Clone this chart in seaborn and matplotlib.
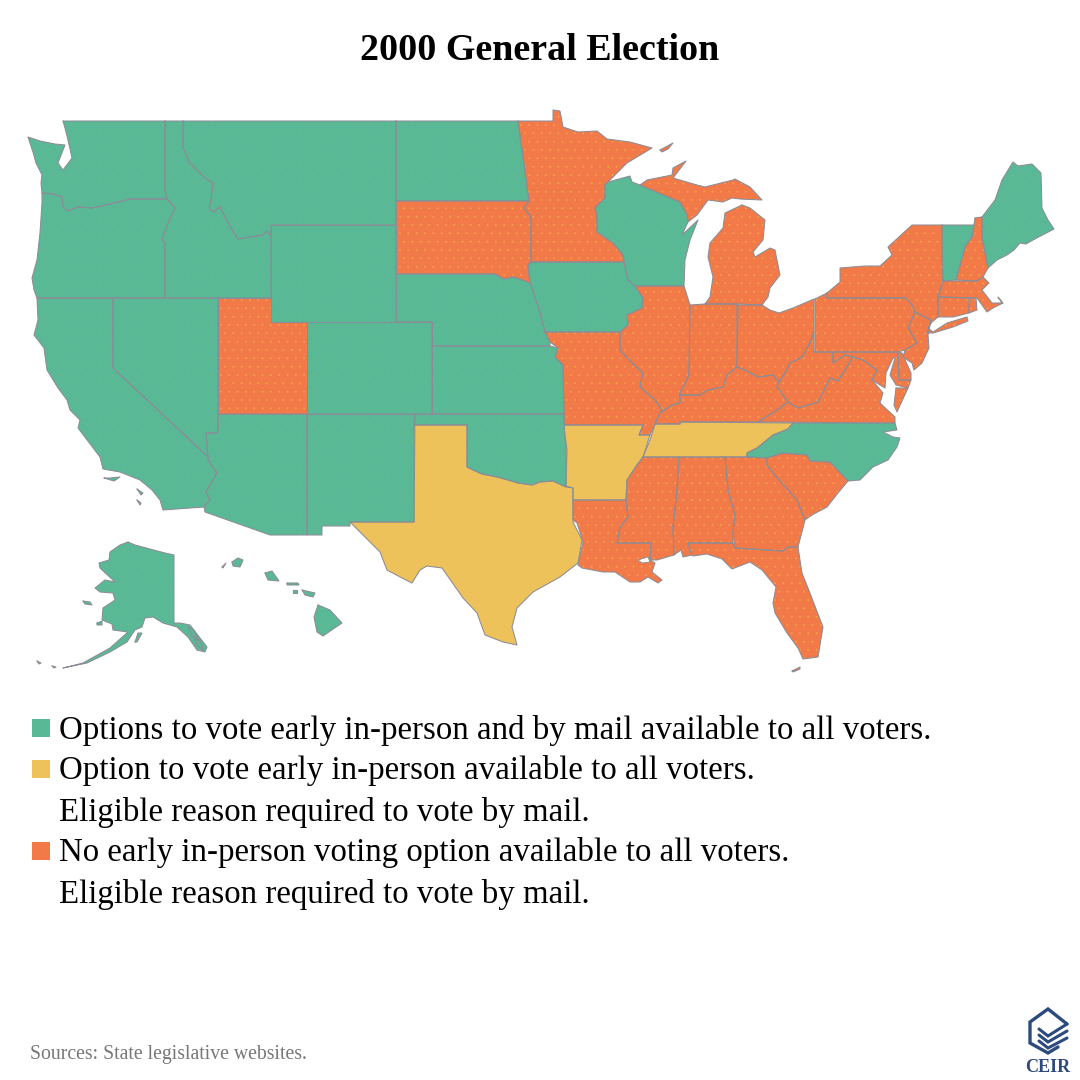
"""
2000 general election early voting map, state outlines traced from the picture.
"""
import numpy as np
import pandas as pd
import matplotlib
matplotlib.use("Agg")
import matplotlib.pyplot as plt
import seaborn as sns

sns.set_theme(style="white")
plt.rcParams["font.family"] = ["Liberation Serif", "DejaVu Serif"]
plt.rcParams["hatch.linewidth"] = 0.05

TITLE = "2000 General Election"
SOURCE = "Sources: State legislative websites."
LEGEND_LINES = [
    "Options to vote early in-person and by mail available to all voters.",
    "Option to vote early in-person available to all voters.",
    "Eligible reason required to vote by mail.",
    "No early in-person voting option available to all voters.",
    "Eligible reason required to vote by mail.",
]
LEGEND_KEYS = ["both", "early", None, "none", None]

# ── outlines, (x, y) ──────────────────────────────────────────────────────────
WA = [(63,121),(165,121),(165,190),(167,199),(130,199),(110,204),(92,208),(78,207),(68,211),(63,207),(62,197),
      (53,194),(42,193),(41,183),(42,175),(36,163),(33,152),(28,137),(40,141),(55,144),(65,145),(58,163),(63,170),
      (72,158),(68,140),(65,128)]
OR = [(42,193),(53,194),(62,197),(63,207),(68,211),(78,207),(92,208),(110,204),(130,199),(167,199),(175,208),
      (168,223),(162,240),(165,243),(165,298),(37,298),(34,290),(32,278),(37,260),(40,233),(42,203)]
ID = [(165,121),(183,121),(183,147),(189,162),(205,178),(213,183),(211,200),(209,208),(213,212),(220,207),(228,223),
      (238,239),(263,235),(267,231),(271,237),(271,298),(165,298),(165,243),(162,240),(168,223),(175,208),(167,199),
      (165,190)]
MT = [(183,121),(396,121),(396,225),(271,225),(271,237),(267,231),(263,235),(238,239),(228,223),(220,207),(213,212),
      (209,208),(211,200),(213,183),(205,178),(189,162),(183,147)]
WY = [(271,225),(396,225),(396,322),(271,322)]
ND = [(396,121),(518,121),(523,157),(527,187),(529,201),(396,201)]
SD = [(396,201),(529,201),(524,208),(531,217),(531,262),(528,265),(530,283),(523,280),(513,277),(504,279),(495,274),
      (396,274)]
MN = [(518,121),(553,121),(553,110),(560,111),(563,127),(578,132),(597,131),(607,139),(630,142),(652,148),(627,163),
      (608,182),(605,185),(605,198),(595,208),(597,215),(597,232),(613,243),(623,255),(624,262),(531,262),(531,217),
      (524,208),(529,201),(527,187),(523,157)]
WI = [(608,182),(630,176),(632,182),(640,185),(680,202),(687,215),(688,222),(682,235),(698,220),(690,240),(685,260),
      (684,286),(635,286),(628,280),(624,262),(623,255),(613,243),(597,232),(597,215),(595,208),(605,198),(605,185)]
MI_UPPER = [(640,185),(647,180),(672,175),(673,168),(686,161),(673,178),(697,185),(705,187),(733,180),(735,179),
            (750,187),(762,200),(740,199),(732,198),(723,202),(708,200),(697,215),(688,222),(687,215),(680,202)]
MI_LOWER = [(742,205),(725,213),(723,228),(710,243),(708,257),(713,277),(710,297),(705,304),(738,304),(762,305),
            (768,297),(770,288),(780,275),(775,250),(770,248),(755,257),(753,252),(763,240),(765,220),(750,208)]
MI_ISLE = [(660,150),(673,143),(668,149),(662,152)]
IA = [(531,262),(624,262),(628,280),(635,286),(643,298),(642,308),(627,315),(628,325),(620,332),(545,332),(540,313),
      (535,297),(530,283),(528,265)]
IL = [(635,286),(684,286),(690,305),(689,375),(680,393),(680,403),(672,405),(660,413),(662,410),(655,400),(640,387),
      (643,373),(632,363),(620,350),(620,332),(628,325),(627,315),(642,308),(643,298)]
IN = [(705,304),(738,304),(737,367),(727,375),(723,387),(708,390),(700,395),(680,395),(680,393),(689,375),(690,305)]
OH = [(737,305),(762,305),(770,310),(779,313),(793,308),(814,299),(814,332),(810,343),(802,357),(790,363),(785,373),
      (779,382),(773,375),(758,377),(745,370),(737,367)]
PA = [(815,299),(827,293),(827,298),(906,298),(912,305),(915,312),(908,328),(917,343),(905,350),(898,352),(815,352)]
NY = [(827,293),(840,282),(840,268),(865,266),(880,266),(892,255),(888,247),(912,225),(942,225),(942,255),(943,282),
      (938,295),(938,317),(932,322),(928,328),(933,332),(947,323),(967,317),(968,321),(953,327),(933,333),(927,333),
      (931,320),(915,312),(912,305),(906,298),(827,298)]
NJ = [(915,312),(931,320),(928,335),(929,348),(922,363),(914,370),(912,363),(903,357),(905,350),(917,343),(908,328)]
VT = [(942,225),(974,225),(972,237),(965,247),(956,280),(943,281),(942,255)]
NH = [(975,218),(982,217),(982,237),(988,268),(983,277),(977,281),(956,280),(965,247),(972,237),(974,225)]
ME = [(982,217),(995,200),(1002,180),(1013,162),(1018,166),(1032,164),(1041,173),(1042,208),(1048,220),(1054,229),
      (1033,240),(1026,244),(1020,243),(1014,250),(1007,255),(997,260),(988,268),(982,237)]
MA = [(943,281),(977,281),(983,277),(989,283),(982,290),(992,303),(1002,303),(998,297),(1003,303),(993,308),(987,312),
      (977,298),(938,297)]
RI = [(970,298),(976,298),(977,310),(969,313)]
CT = [(938,297),(969,298),(969,313),(953,317),(938,317)]
MD = [(833,352),(898,352),(899,380),(911,380),(908,388),(896,385),(890,375),(895,358),(893,358),(886,373),(885,388),
      (872,380),(877,370),(863,360),(853,357),(845,355),(833,363)]
DE = [(898,352),(902,353),(911,373),(911,380),(899,380)]
VA = [(758,422),(777,410),(788,402),(798,408),(818,402),(830,378),(838,381),(853,357),(863,360),(877,370),(872,380),
      (883,393),(880,403),(895,417),(895,423)]
VA_SHORE = [(896,388),(908,388),(897,412),(894,405)]
WV = [(814,352),(833,352),(833,363),(845,355),(853,357),(838,381),(830,378),(818,402),(798,408),(788,402),(777,387),
      (779,382),(785,373),(790,363),(802,357),(810,343),(814,332)]
KY = [(737,367),(745,370),(758,377),(773,375),(779,382),(777,387),(788,402),(777,410),(758,422),(680,422),(680,424),
      (655,424),(660,413),(672,405),(680,403),(680,395),(700,395),(708,390),(723,387),(727,375)]
TN = [(655,424),(680,424),(681,422),(793,423),(788,429),(773,435),(757,448),(747,453),(747,457),(643,457),(650,440)]
NC = [(793,423),(895,423),(897,430),(883,432),(893,437),(900,438),(897,447),(888,460),(873,467),(860,480),(848,481),
      (830,462),(810,461),(807,455),(783,453),(767,458),(747,457),(747,453),(757,448),(773,435),(788,429)]
SC = [(767,458),(783,453),(807,455),(810,461),(830,462),(848,481),(838,493),(827,507),(812,515),(805,520),(797,500),
      (773,473),(767,465)]
GA = [(725,457),(747,457),(767,458),(767,465),(773,473),(797,500),(805,520),(803,528),(798,547),(788,547),(783,551),
      (735,548),(733,533),(735,515),(728,490)]
AL = [(679,457),(725,457),(728,490),(735,515),(733,533),(733,543),(688,543),(692,555),(683,557),(681,550),(674,555),
      (673,527),(677,490)]
MS = [(643,457),(679,457),(677,490),(673,527),(674,555),(657,560),(650,560),(651,543),(617,543),(620,527),(628,517),
      (626,500),(627,480),(637,465)]
FL = [(688,543),(733,543),(735,548),(783,551),(788,547),(798,547),(802,573),(808,588),(823,627),(818,657),(803,659),
      (798,648),(787,633),(775,613),(773,603),(776,587),(762,570),(750,562),(732,569),(722,559),(707,554),(693,556),
      (692,555)]
FL_KEYS = [(792,671),(800,667),(800,669),(793,672)]
LA = [(573,500),(626,500),(628,517),(620,527),(617,543),(651,543),(650,560),(655,563),(652,572),(662,580),(658,583),
      (648,577),(640,582),(630,582),(615,572),(603,572),(582,568),(578,565),(583,542),(577,523),(573,520)]
AR = [(564,425),(643,425),(639,435),(650,435),(643,457),(637,465),(627,480),(626,500),(573,500),(573,488),(566,486),
      (566,450)]
MO = [(545,332),(620,332),(620,350),(632,363),(643,373),(640,387),(655,400),(662,410),(660,413),(655,424),(650,435),
      (639,435),(643,425),(564,425),(563,365),(555,357),(558,348),(550,342)]
NE = [(396,274),(495,274),(504,279),(513,277),(523,280),(530,283),(535,297),(540,313),(545,332),(550,342),(550,346),
      (432,346),(432,322),(396,322)]
KS = [(432,346),(550,346),(558,348),(555,357),(563,365),(564,414),(432,414)]
OK = [(415,414),(564,414),(564,427),(567,450),(566,487),(553,481),(540,482),(532,485),(518,483),(508,480),(497,477),
      (482,474),(473,470),(467,467),(467,425),(414,425)]
TX = [(414,425),(467,425),(467,467),(473,470),(482,474),(497,477),(508,480),(518,483),(532,485),(540,482),(553,481),
      (566,487),(573,488),(573,522),(582,540),(578,563),(560,577),(533,592),(517,608),(512,627),(517,645),(503,642),
      (485,635),(477,613),(463,598),(442,568),(427,566),(420,570),(412,583),(402,578),(387,570),(380,552),(370,542),
      (350,522),(414,522)]
NM = [(307,414),(415,414),(414,522),(350,522),(350,526),(322,526),(322,535),(307,535)]
CO = [(307,322),(432,322),(432,414),(307,414)]
UT = [(218,298),(271,298),(271,322),(307,322),(307,414),(218,414)]
AZ = [(218,414),(307,414),(307,535),(270,535),(205,512),(204,507),(210,500),(206,492),(217,473),(208,460),(206,433),
      (217,433),(218,430)]
NV = [(113,298),(218,298),(218,430),(217,433),(206,433),(208,457),(113,368)]
CA = [(37,298),(113,298),(113,368),(208,457),(208,460),(217,473),(206,492),(210,500),(204,507),(163,510),(160,500),
      (152,490),(140,480),(120,472),(103,469),(100,457),(78,428),(80,420),(70,410),(67,400),(58,388),(47,370),(44,348),
      (34,335),(38,320)]
CA_ISLE_1 = [(104,478),(110,478),(120,477),(114,481)]
CA_ISLE_2 = [(137,489),(143,493),(141,495)]
CA_ISLE_3 = [(137,500),(141,503),(140,505)]
AK = [(128,542),(135,545),(165,553),(174,555),(174,623),(180,623),(190,625),(207,647),(205,652),(197,650),(188,637),
      (177,627),(163,623),(153,617),(145,618),(142,627),(135,630),(127,642),(110,652),(87,663),(63,668),(83,663),
      (110,648),(128,632),(113,630),(112,624),(102,620),(103,608),(115,600),(113,593),(100,592),(95,588),(105,580),
      (115,582),(100,568),(99,563),(109,560),(110,552),(120,545)]
AK_KODIAK = [(135,642),(138,633),(142,633),(137,642)]
AK_LAWRENCE = [(83,601),(90,602),(92,605),(85,604)]
AK_NUNIVAK = [(97,623),(102,621),(102,625),(97,625)]
AK_PANHANDLE_1 = [(188,627),(194,630),(199,641),(192,636)]
AK_PANHANDLE_2 = [(194,636),(201,642),(203,650),(197,645)]
AK_ALEUT_1 = [(37,661),(41,663),(39,664)]
AK_ALEUT_2 = [(52,666),(56,667),(54,668)]
HI_BIG = [(318,605),(330,610),(342,623),(323,636),(317,632),(314,617)]
HI_MAUI = [(302,590),(315,593),(313,597),(305,595)]
HI_MOLOKAI = [(287,583),(298,583),(299,585),(287,585)]
HI_LANAI = [(293,590),(297,590),(297,593),(293,593)]
HI_OAHU = [(265,573),(272,571),(279,581),(268,580)]
HI_KAUAI = [(232,562),(238,558),(243,560),(240,567),(233,566)]
HI_NIIHAU = [(222,567),(226,563),(223,568)]
LAKE_PONTCHARTRAIN = [(638,560),(648,557),(650,562),(642,563)]
LOGO_HEX = [(1067,1024),(1048,1009),(1030,1022),(1030,1043),(1048,1053),(1058,1047)]
LOGO_CHEVRONS = [[(1039,1029),(1048,1036),(1067,1024)],
                 [(1039,1035),(1048,1042),(1067,1031)],
                 [(1039,1041),(1048,1048),(1067,1038)]]

BOTH = [WA, OR, ID, MT, WY, ND, WI, IA, NE, KS, OK, NM, CO, AZ, NV, CA, CA_ISLE_1, CA_ISLE_2, CA_ISLE_3, VT, ME, NC,
        AK, AK_KODIAK, AK_LAWRENCE, AK_NUNIVAK, AK_PANHANDLE_1, AK_PANHANDLE_2, AK_ALEUT_1, AK_ALEUT_2,
        HI_BIG, HI_MAUI, HI_MOLOKAI, HI_LANAI, HI_OAHU, HI_KAUAI, HI_NIIHAU]
EARLY = [TX, AR, TN]
NONE = [SD, MN, MI_UPPER, MI_LOWER, MI_ISLE, IL, IN, OH, PA, NY, NJ, NH, MA, RI, CT, MD, DE, VA, VA_SHORE, WV, KY,
        SC, GA, AL, MS, FL, FL_KEYS, LA, MO, UT]

GROUPS = {"both": BOTH, "early": EARLY, "none": NONE}
COLORS = {"both": "#59B996", "early": "#EEC25A", "none": "#F17A48"}
DOTS = {"both": "#67BD8E", "early": "#EFBF5E", "none": "#F4A84C"}
BORDER = "#8C8C96"
NAVY = "#2C4A7C"

fig = plt.figure(figsize=(10.8, 10.8), dpi=100)
ax = fig.add_axes([0, 0, 1, 1])

# ── fills, then all outlines in one seaborn call ──────────────────────────────
rows = []
for key, shapes in GROUPS.items():
    for shape in shapes:
        xy = np.array(shape)
        ax.fill(xy[:, 0], xy[:, 1], facecolor=COLORS[key], edgecolor=DOTS[key], hatch="..", linewidth=0, zorder=1)
        rows += [{"order": i, "x": p[0], "y": p[1]} for i, p in enumerate(shape + shape[:1])]
outlines = pd.DataFrame(rows)
outlines["piece"] = (outlines["order"] == 0).cumsum()
sns.lineplot(data=outlines, x="x", y="y", units="piece", estimator=None, sort=False,
             color=BORDER, linewidth=0.75, ax=ax, zorder=2)

lake = np.array(LAKE_PONTCHARTRAIN)
ax.fill(lake[:, 0], lake[:, 1], facecolor="white", edgecolor=BORDER, linewidth=0.6, zorder=3)

# ── title, legend, source, logo ───────────────────────────────────────────────
ax.text(540, 50, TITLE, ha="center", va="center", fontsize=27.4, fontweight="bold", color="black")

line_y = [728, 769, 810, 851, 893]
swatches = pd.DataFrame([{"x": 41, "y": y, "key": k} for y, k in zip(line_y, LEGEND_KEYS) if k])
sns.scatterplot(data=swatches, x="x", y="y", hue="key", palette=COLORS, marker="s", s=165, linewidth=0,
                legend=False, ax=ax, zorder=2)
for y, line in zip(line_y, LEGEND_LINES):
    ax.text(59, y + 2, line, ha="left", va="center", fontsize=23.7, color="black")

ax.text(30, 1054, SOURCE, ha="left", va="center", fontsize=14.2, color="#777777")

xy = np.array(LOGO_HEX)
ax.plot(xy[:, 0], xy[:, 1], color=NAVY, linewidth=2.4, solid_joinstyle="miter", zorder=2)
for chevron in LOGO_CHEVRONS:
    xy = np.array(chevron)
    ax.plot(xy[:, 0], xy[:, 1], color=NAVY, linewidth=2.2, solid_joinstyle="miter", zorder=2)
ax.text(1048, 1067, "CEIR", ha="center", va="center", fontsize=13, fontweight="bold", color=NAVY)

ax.set_xlim(0, 1080)
ax.set_ylim(1080, 0)
ax.set_xlabel("")
ax.set_ylabel("")
ax.axis("off")
fig.savefig("out.png", dpi=100, facecolor="white")
